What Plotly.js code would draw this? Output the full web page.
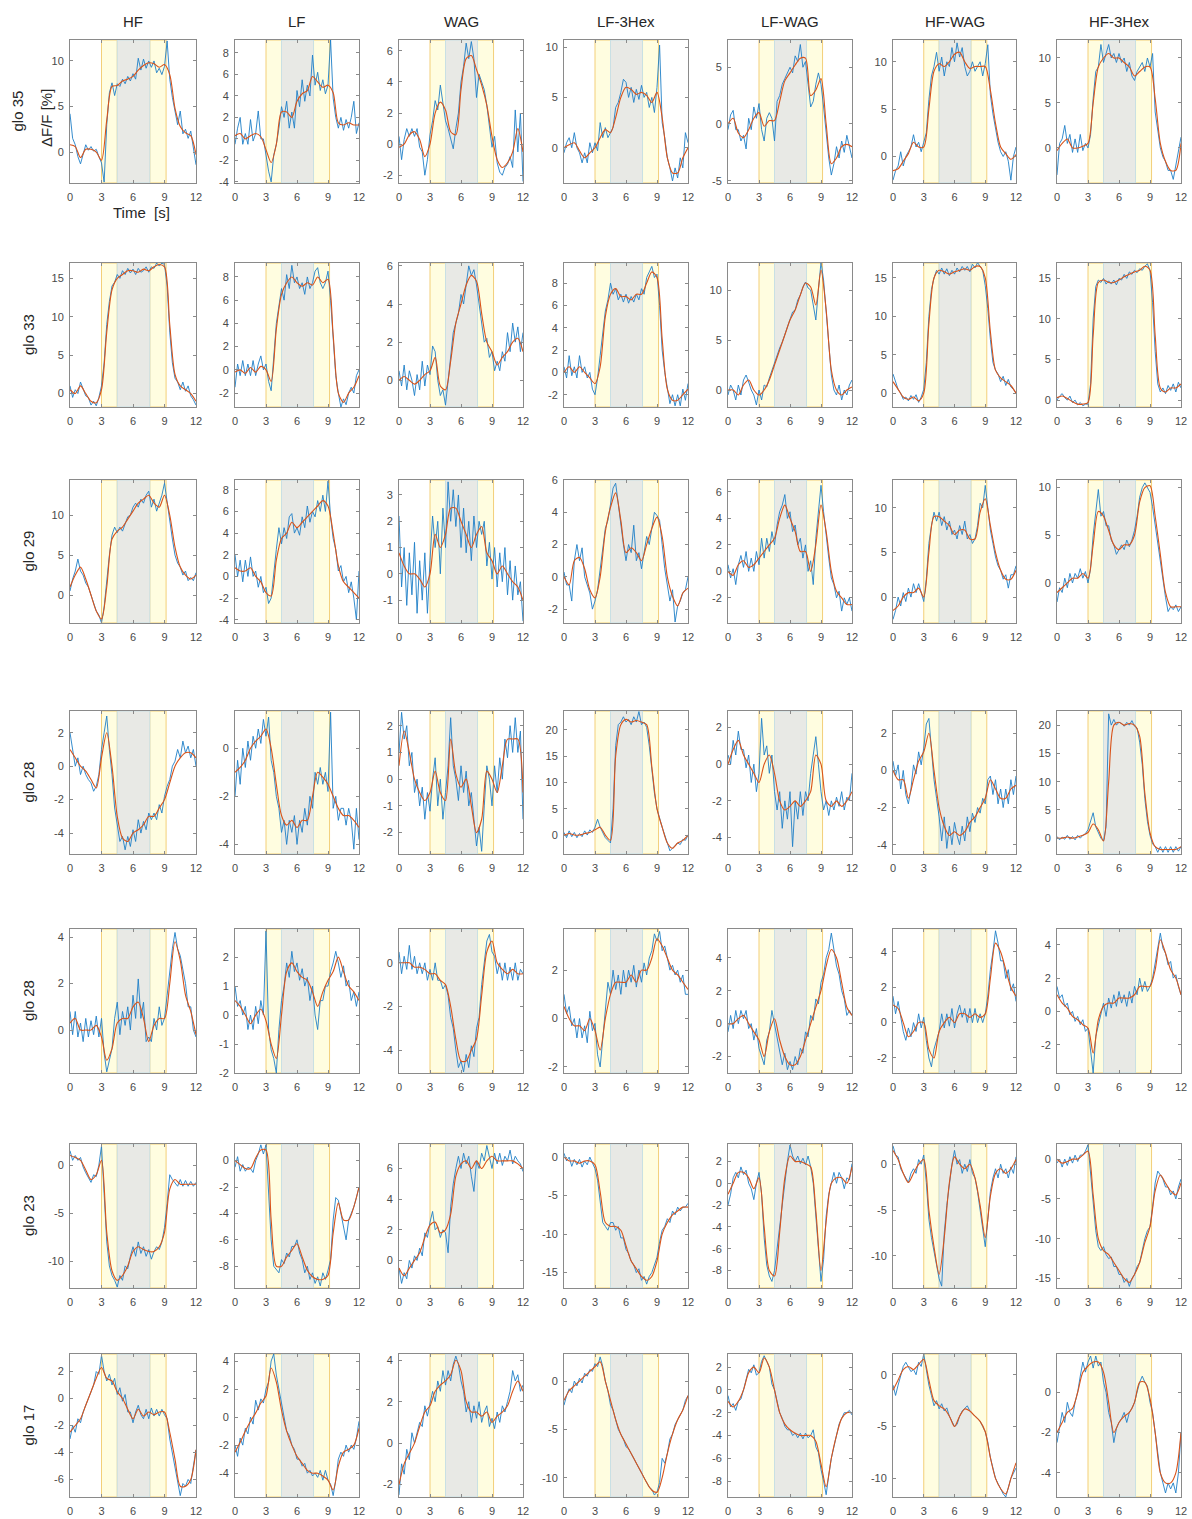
<!DOCTYPE html>
<html>
<head>
<meta charset="utf-8">
<script src="https://cdn.plot.ly/plotly-3.0.1.min.js"></script>
<style>html,body{margin:0;padding:0;background:#fff;}#chart{width:1192px;height:1519px;}</style>
</head>
<body>
<div id="chart"></div>
<script>
// ---------- time axes ----------
const tRaw = [0,0.25,0.5,0.75,1,1.25,1.5,1.75,2,2.25,2.5,2.75,3,3.25,3.5,3.75,4,4.25,4.5,4.75,5,5.25,5.5,5.75,6,6.25,6.5,6.75,7,7.25,7.5,7.75,8,8.25,8.5,8.75,9,9.25,9.5,9.75,10,10.25,10.5,10.75,11,11.25,11.5,11.75,12];
const tFit = [0,0.5,1,1.5,2,2.5,3,3.5,4,4.5,5,5.5,6,6.5,7,7.5,8,8.5,9,9.5,10,10.5,11,11.5,12];

const odorNames = ['HF','LF','WAG','LF-3Hex','LF-WAG','HF-WAG','HF-3Hex'];
const gloNames = ['glo 35','glo 33','glo 29','glo 28','glo 28','glo 23','glo 17'];
const xTickVals = [0,3,6,9,12];

// ---------- glo 35 ----------
const g35_HF_b = [4.2,1.5,0.8,-0.5, -1.3,-0.2,0.8,0.2, 0.6,0.1,0.3,-0.5, -1.2,-3.3,3.0,6.5, 7.6,6.2,7.5,7.2, 8.0,7.5,8.3,7.8, 8.6,8.0,10.3,9.0, 10.2,9.2,10.0,9.3, 10.0,8.7,9.2,8.5, 9.4,12.2,8.0,6.0, 4.5,3.0,4.5,2.0, 2.5,1.5,2.3,0.5, -1.4];
const g35_HF_o = [0.8,0.6, -0.6,0.3, 0.3,0.0, -0.9,3.5, 7.2,7.3, 7.8,8.0, 8.3,9.0, 9.5,9.8, 9.7,9.3, 9.6,8.5, 4.8,2.8, 2.1,1.8, -0.3];
const g35_LF_b = [-0.5,1.0,2.0,-0.5, 0.5,-0.5,1.8,-0.2, 0.5,2.6,0.0,0.0, -1.5,-3.0,-4.0,-1.5, -0.5,1.0,3.0,2.0, 3.5,1.0,2.5,1.0, 4.5,3.0,5.5,3.5, 5.0,4.0,7.8,5.0, 6.2,4.5,5.5,4.2, 5.0,9.2,3.8,2.0, 1.0,2.0,0.8,1.8, 1.0,2.0,3.5,0.5, 1.5];
const g35_LF_o = [0.3,0.5, 0.0,0.3, 0.5,0.2, -1.0,-2.2, -0.5,2.5, 2.5,2.0, 3.5,4.2, 4.5,5.8, 5.3,4.8, 5.0,4.3, 1.5,1.3, 1.5,1.3, 1.3];
const g35_WAG_b = [0.5,-1.0,0.3,1.0, 0.5,1.0,0.5,1.0, -0.2,-0.5,-2.0,-1.0, 0.6,1.5,2.8,2.2, 3.8,2.5,1.5,1.0, 0.3,-0.3,1.0,2.0, 4.0,5.0,6.5,5.5, 6.6,5.5,3.0,4.5, 4.0,3.5,2.5,1.0, -0.2,0.5,-1.2,-1.8, -2.0,-1.5,-1.3,-0.8, -1.5,2.2,-0.5,2.0, -2.4];
const g35_WAG_o = [-0.2,0.0, 0.6,0.8, 0.3,-0.8, 0.0,2.0, 2.7,2.2, 0.8,0.6, 3.5,5.5, 5.7,4.8, 3.8,2.5, 0.5,-1.0, -1.5,-1.2, -0.5,1.0, -0.5];
const g35_LF3Hex_b = [-0.5,0.5,1.0,0.0, 1.5,0.0,-0.5,-1.5, -0.5,-1.5,0.5,-0.5, 0.5,-0.3,2.5,1.0, 2.0,1.0,1.5,2.0, 4.0,4.5,5.5,6.8, 6.5,5.0,6.0,4.5, 5.8,4.8,6.2,5.0, 5.5,4.0,5.0,3.5, 6.0,10.2,2.5,1.0, -1.0,-2.0,-3.3,-2.0, -3.0,-1.0,-2.0,1.5, 0.5];
const g35_LF3Hex_o = [0.0,0.3, 0.5,-0.3, -1.0,-0.5, 0.0,1.0, 1.8,1.5, 3.0,5.0, 6.0,5.8, 5.3,5.5, 5.2,4.5, 5.5,3.0, -1.0,-2.5, -2.5,-1.0, 0.0];
const g35_LFWAG_b = [-0.5,0.8,1.2,-0.5, -0.5,-1.5,-1.0,-2.2, 0.5,-0.5,1.5,0.5, 1.8,-0.5,-1.5,0.5, 1.0,0.5,-1.5,2.0, 2.5,3.5,4.0,4.5, 5.0,4.5,6.0,5.5, 7.0,5.0,5.5,3.5, 1.5,2.0,3.5,4.5, 3.5,1.5,-1.0,-3.0, -4.5,-3.5,-2.0,-3.0, -1.5,-2.5,-1.0,-2.0, -3.0];
const g35_LFWAG_o = [0.0,0.5, -0.8,-1.2, -0.5,0.5, 1.0,-0.2, 0.3,0.3, 2.0,3.8, 4.5,5.2, 5.8,5.8, 2.5,3.0, 4.0,0.0, -3.5,-3.0, -2.0,-1.8, -2.0];
const g35_HFWAG_b = [-2.5,-1.5,-1.0,0.5, -1.0,0.0,0.5,1.0, 2.3,1.0,1.5,0.5, 1.5,2.5,6.0,8.5, 9.5,11.0,9.0,10.5, 8.5,10.0,9.5,11.5, 10.0,12.0,10.5,11.5, 9.5,8.5,9.0,10.0, 9.0,9.5,10.0,8.5, 9.8,11.8,6.5,4.5, 3.0,1.5,0.5,0.0, 0.5,-0.5,-2.5,0.0, 1.0];
const g35_HFWAG_o = [-1.5,-1.3, -0.5,0.3, 1.5,1.0, 1.0,5.0, 9.0,9.8, 9.5,10.0, 10.8,11.0, 10.0,9.3, 9.5,9.5, 9.5,7.0, 3.5,1.0, 0.3,-0.3, 0.2];
const g35_HF3Hex_b = [-3.0,0.5,1.0,2.5, 0.5,1.5,-0.5,1.0, -0.5,1.5,-0.3,0.5, 0.0,1.5,5.5,8.5, 9.0,11.5,9.5,10.5, 11.5,10.0,10.5,9.5, 10.5,9.5,10.0,8.5, 9.5,8.0,7.5,8.5, 9.0,9.5,8.5,10.0, 9.0,10.5,4.0,2.0, 0.0,-1.0,-1.5,-2.5, -2.5,-3.5,-2.0,-0.5, 1.2];
const g35_HF3Hex_o = [-0.3,0.5, 1.0,0.0, 0.0,0.2, 0.5,5.0, 9.0,10.0, 10.5,10.0, 10.0,9.5, 9.0,8.0, 8.5,9.0, 9.0,5.5, 0.5,-1.5, -2.5,-2.5, 0.5];

// ---------- glo 33 ----------
const g33_HF_b = [1.0,-0.5,0.5,0.0, 1.5,0.5,-0.3,-0.5, -1.5,-1.0,-1.6,-0.5, 1.0,4.0,9.0,12.0, 14.0,14.5,15.5,15.0, 16.0,15.5,16.3,15.7, 16.2,15.5,16.3,15.8, 16.0,16.5,15.8,16.5, 16.3,17.0,16.6,17.0, 16.8,14.0,8.0,4.0, 2.0,1.5,0.5,1.5, 0.3,1.0,-0.3,-0.8, -1.5];
const g33_HF_o = [0.5,0.0, 1.0,0.0, -1.0,-1.2, 0.5,8.0, 13.5,15.0, 15.5,16.0, 16.0,15.8, 16.2,16.0, 16.5,16.8, 16.5,9.0, 2.5,1.0, 0.5,0.0, -1.0];
const g33_LF_b = [-1.5,0.5,-0.5,0.8, -0.5,0.5,-0.5,0.8, -0.5,0.5,1.2,0.0, 0.5,-1.0,-1.8,1.5, 4.0,5.5,7.0,6.0, 8.2,7.0,9.0,7.5, 8.0,7.0,7.5,6.5, 8.0,7.0,7.5,8.5, 8.8,7.5,7.0,7.5, 8.5,6.0,2.5,-0.5, -2.0,-3.2,-2.5,-3.0, -2.0,-1.5,-2.0,-0.5, 0.0];
const g33_LF_o = [-0.2,0.0, -0.3,0.2, -0.2,0.3, 0.0,-1.0, 3.5,6.5, 7.5,8.0, 7.5,7.2, 7.5,7.3, 8.0,7.5, 7.8,3.0, -2.0,-2.8, -2.0,-1.5, -0.5];
const g33_WAG_b = [0.5,-0.3,0.8,-0.5, 0.5,0.0,-0.8,0.3, -0.5,1.0,-0.3,0.8, 0.3,1.8,1.5,0.0, -0.8,-0.5,-1.3,0.0, 1.5,2.5,3.0,3.5, 4.5,4.0,5.0,6.0, 5.5,5.8,5.0,4.0, 3.0,2.0,2.2,1.2, 1.5,0.5,1.0,0.5, 1.5,1.0,2.5,1.5, 3.0,2.0,2.8,1.5, 2.5];
const g33_WAG_o = [0.0,0.2, 0.0,-0.2, 0.0,0.3, 0.5,1.2, -0.3,-0.5, 1.0,3.0, 4.0,5.0, 5.5,5.2, 3.5,2.0, 1.5,0.8, 1.2,1.5, 2.0,2.2, 1.5];
const g33_LF3Hex_b = [0.5,-0.5,1.5,-0.3, 0.5,-0.5,1.5,0.0, 0.5,-0.5,0.0,-1.5, -2.0,-0.5,1.5,3.5, 5.5,6.5,8.0,7.0, 7.5,6.5,7.0,6.3, 7.0,6.2,6.8,6.3, 7.0,6.5,7.5,7.0, 8.5,9.0,9.5,8.5, 8.8,6.0,2.0,0.0, -1.5,-2.8,-2.0,-3.0, -2.0,-3.0,-1.5,-2.5, -1.0];
const g33_LF3Hex_o = [0.0,0.5, 0.0,0.5, 0.0,-0.5, -1.0,0.5, 5.0,7.0, 7.5,6.8, 6.8,6.5, 7.0,7.0, 8.0,9.0, 8.5,3.0, -1.5,-2.5, -2.5,-2.0, -1.5];
const g33_LFWAG_b = [-0.5,0.5,0.0,-1.0, 0.5,-0.5,1.0,1.5, 0.8,0.0,-0.5,-1.5, 0.0,-1.0,0.5,0.3, 1.2,2.0,2.8,3.5, 4.2,4.8,5.5,6.2, 7.0,7.8,8.0,9.0, 9.5,10.3,10.8,10.2, 10.0,8.5,7.0,10.0, 12.8,11.0,7.5,4.0, 1.5,0.0,-0.5,0.5, -1.0,0.0,-0.5,0.5, 1.0];
const g33_LFWAG_o = [0.0,0.0, -0.5,0.5, 1.0,0.0, -0.5,0.0, 1.0,2.5, 4.0,5.5, 7.0,8.0, 9.5,10.7, 10.3,8.5, 12.0,8.0, 2.0,0.0, -0.5,0.0, 0.3];
const g33_HFWAG_b = [2.5,1.5,0.5,0.0, -0.8,-0.5,-1.0,-0.3, -0.8,-0.2,-1.2,-0.5, 0.5,4.0,10.0,13.5, 15.0,16.0,15.5,16.3, 15.5,16.2,15.3,16.0, 15.5,16.3,15.8,16.5, 16.0,16.5,15.8,16.8, 16.3,17.0,16.5,16.0, 14.0,11.0,7.0,4.0, 3.0,2.5,1.5,2.2, 1.0,1.8,0.8,0.5, 0.0];
const g33_HFWAG_o = [1.5,0.5, -0.5,-0.8, -0.5,-1.0, 0.0,9.0, 15.0,16.0, 15.8,15.5, 15.8,16.0, 16.2,16.0, 16.5,16.5, 15.0,8.0, 3.0,2.0, 1.5,1.0, 0.0];
const g33_HF3Hex_b = [0.0,0.5,0.8,0.3, 0.0,0.5,-0.3,0.0, -0.6,-0.3,-0.7,-0.5, -0.5,2.0,10.0,14.0, 14.8,14.5,15.0,14.3, 14.7,14.3,14.8,14.2, 15.0,14.8,15.5,15.0, 15.8,15.5,16.0,15.7, 16.2,16.0,16.5,16.8, 16.0,12.0,6.0,2.0, 1.0,1.5,0.8,1.8, 1.2,2.0,1.0,2.2, 1.5];
const g33_HF3Hex_o = [0.3,0.5, 0.2,-0.2, -0.5,-0.5, -0.3,8.0, 14.5,14.8, 14.5,14.5, 14.8,15.2, 15.5,15.8, 16.0,16.5, 16.0,8.0, 1.5,1.0, 1.5,1.5, 2.0];

// ---------- glo 29 ----------
const g29_HF_b = [0.5,2.0,3.0,4.5, 3.0,2.5,1.5,1.0, 0.0,-1.0,-2.0,-2.5, -3.5,-1.5,2.0,5.0, 7.5,8.5,7.8,8.5, 8.0,9.0,9.8,10.0, 11.0,11.5,11.0,12.0, 11.5,12.5,13.0,11.0, 12.0,10.5,11.5,12.5, 14.0,11.5,9.0,7.0, 5.0,4.0,3.5,2.5, 3.0,1.8,2.2,1.8, 2.8];
const g29_HF_o = [1.0,2.5, 3.5,2.0, 0.0,-2.0, -3.0,1.0, 7.0,8.0, 8.5,9.5, 10.5,11.5, 12.0,12.5, 11.5,11.0, 12.5,10.0, 6.0,3.5, 2.5,2.0, 2.5];
const g29_LF_b = [2.0,0.0,1.5,-0.5, 1.5,0.0,1.8,0.0, 0.5,-1.0,0.0,-1.5, -1.0,-2.5,-2.0,0.5, 2.5,4.5,3.0,4.5, 3.5,5.5,5.8,4.0, 4.5,3.8,5.5,4.5, 6.5,5.0,6.0,5.5, 7.0,6.0,7.5,6.0, 8.8,5.5,3.5,2.5, 0.5,1.0,-0.5,0.0, -1.5,-0.5,-2.0,-4.0, 0.5];
const g29_LF_o = [0.8,0.5, 0.5,0.8, 0.0,-0.5, -1.5,-1.8, 1.5,3.5, 4.0,5.0, 4.5,5.0, 5.5,6.0, 6.5,7.0, 6.5,4.0, 1.0,-0.5, -1.0,-1.5, -2.0];
const g29_WAG_b = [2.2,-0.5,1.0,-1.2, 0.8,-0.8,1.2,-1.5, 0.5,-1.0,0.8,-1.5, 0.5,2.2,1.0,2.0, 0.0,2.5,1.0,3.5, 2.0,3.2,1.8,3.0, 1.0,2.5,0.8,2.0, 0.5,2.2,1.0,2.0, 1.5,2.0,0.3,1.2, -0.2,1.0,-0.5,0.8, -0.3,1.0,-0.8,0.5, -1.0,0.3,-0.8,-0.3, -1.8];
const g29_WAG_o = [0.8,0.3, 0.0,0.0, -0.2,-0.5, 0.0,1.5, 1.0,1.5, 2.5,2.5, 2.0,1.5, 1.0,1.5, 1.8,0.8, 0.5,0.0, 0.3,0.0, -0.3,-0.5, -1.0];
const g29_LF3Hex_b = [0.3,-0.5,-0.5,-1.5, 1.0,2.0,1.0,1.8, 0.0,-0.5,-1.0,-2.0, -1.5,-0.8,0.5,1.5, 3.0,3.5,4.5,5.5, 5.8,4.5,3.0,2.0, 1.0,2.0,1.5,3.2, 1.0,1.5,0.5,1.5, 2.5,2.0,3.0,4.0, 3.8,3.5,2.0,0.5, -0.5,-1.5,-0.8,-2.8, -1.8,-1.5,-1.0,-0.8, 0.0];
const g29_LF3Hex_o = [0.0,-0.5, 1.0,1.2, 0.5,-0.8, -1.3,0.0, 2.8,4.3, 5.2,3.5, 1.5,1.8, 1.5,1.0, 2.0,3.0, 3.7,2.5, 0.0,-1.2, -1.8,-1.0, -0.7];
const g29_LFWAG_b = [0.5,-0.5,0.2,-1.0, 0.5,1.2,0.3,1.5, 0.0,1.0,0.0,1.5, 0.5,2.5,1.0,2.5, 1.5,3.0,2.0,3.5, 4.5,5.0,5.8,4.0, 4.5,3.0,3.5,2.0, 2.5,1.0,2.0,0.0, 0.8,-1.0,2.5,4.5, 6.5,4.5,2.5,1.0, -0.5,-1.0,-2.0,-1.5, -3.0,-2.0,-2.5,-2.0, -3.0];
const g29_LFWAG_o = [0.0,-0.3, 0.5,0.8, 0.3,0.5, 1.0,1.5, 2.0,2.5, 4.0,5.0, 4.0,3.0, 1.5,1.5, 0.0,2.0, 5.0,3.0, 0.0,-1.5, -2.0,-2.5, -2.5];
const g29_HFWAG_b = [-2.5,-1.5,0.0,-1.0, 0.5,-0.5,1.0,0.0, 1.5,0.5,1.5,0.5, -0.5,2.0,6.0,8.0, 9.5,8.5,9.5,8.0, 9.0,7.5,8.5,7.0, 7.5,6.5,8.0,7.0, 8.5,6.5,7.0,6.0, 6.5,8.0,10.5,10.0, 12.5,10.0,7.5,6.0, 4.5,3.5,3.0,2.0, 2.5,1.0,2.5,2.5, 3.5];
const g29_HFWAG_o = [-1.5,-1.0, 0.0,0.5, 0.5,1.0, 0.0,5.0, 9.0,9.0, 8.5,8.0, 7.0,7.5, 7.5,6.5, 6.5,9.5, 11.0,8.0, 5.0,3.0, 2.0,2.0, 3.0];
const g29_HF3Hex_b = [-2.0,-0.5,-1.0,0.5, -0.5,1.0,0.0,1.0, 0.5,1.5,0.5,1.2, 0.0,1.5,5.0,7.5, 9.8,7.0,7.5,6.0, 6.0,4.5,4.0,3.0, 3.5,4.0,3.5,4.5, 3.8,4.5,5.5,7.0, 9.0,10.0,10.5,10.0, 9.5,8.0,6.0,4.0, 2.5,0.0,-1.5,-3.0, -2.5,-2.8,-2.3,-3.0, -2.5];
const g29_HF3Hex_o = [-1.0,-0.5, 0.0,0.5, 0.5,1.0, 0.5,4.0, 7.5,7.0, 5.5,4.0, 3.5,4.0, 4.0,5.0, 8.5,10.0, 10.2,7.0, 3.0,-1.0, -2.5,-2.5, -2.5];

// ---------- glo 28 (first) ----------
const g28a_HF_b = [2.0,1.0,0.0,0.5, -0.5,0.0,-0.5,-0.8, -1.0,-1.5,-1.2,-0.5, 1.0,2.0,3.0,1.0, -0.5,-2.5,-3.5,-4.5, -4.2,-5.0,-4.2,-4.8, -3.8,-4.5,-3.2,-4.0, -3.3,-3.8,-2.8,-3.2, -2.8,-3.2,-2.3,-2.8, -1.8,-1.2,-0.8,0.0, 0.3,1.0,0.5,1.5, 0.8,1.2,0.5,1.0, 0.0];
const g28a_HF_o = [1.0,0.5, 0.0,-0.3, -0.8,-1.3, 0.5,2.0, 0.0,-3.0, -4.3,-4.5, -4.0,-3.8, -3.5,-3.0, -3.0,-2.5, -2.0,-1.0, 0.0,0.5, 0.8,0.8, 0.5];
const g28a_LF_b = [-2.0,-0.5,-1.5,0.0, -0.8,0.3,-0.5,0.5, 0.0,0.8,0.2,1.2, 0.5,1.3,-0.5,-1.0, -2.0,-2.5,-3.5,-3.0, -4.0,-3.0,-3.5,-2.8, -4.0,-3.0,-3.5,-2.5, -3.2,-2.0,-2.5,-1.0, -1.5,-0.8,-1.5,-1.0, -1.8,1.5,-2.5,-2.0, -3.0,-2.5,-2.5,-3.2, -2.5,-3.0,-4.2,-2.5, -3.8];
const g28a_LF_o = [-1.0,-0.8, -0.5,0.0, 0.3,0.5, 0.8,0.0, -1.5,-2.8, -3.2,-3.0, -3.3,-3.0, -3.0,-2.0, -1.0,-1.2, -1.5,-2.0, -2.5,-2.8, -2.8,-3.0, -3.3];
const g28a_WAG_b = [1.0,2.5,1.5,2.0, 0.5,1.0,-0.5,0.0, -1.0,-0.3,-1.5,-0.5, -1.2,0.0,0.8,-1.0, 0.0,-1.5,-0.5,0.5, 2.3,0.5,0.0,-0.8, 0.5,-0.5,0.3,-1.0, -0.5,-1.5,-2.5,-1.8, -2.7,-1.0,0.5,0.0, -1.0,0.5,-0.5,0.8, 0.0,1.5,0.8,2.0, 1.0,2.3,1.0,1.8, -1.5];
const g28a_WAG_o = [0.5,1.8, 1.0,0.0, -0.5,-0.8, -0.5,0.3, -0.5,-0.8, 1.5,0.2, -0.3,0.0, -1.0,-2.0, -1.5,0.3, 0.0,-0.5, 0.5,1.5, 1.5,1.5, -0.5];
const g28a_LF3Hex_b = [0.5,-0.5,0.8,-0.3, 0.5,-0.5,0.3,-0.3, 0.8,0.0,1.0,0.5, 1.5,3.0,1.5,0.5, -0.5,-1.0,-1.5,5.0, 17.0,21.0,21.5,22.5, 21.5,22.0,21.0,22.5, 21.5,23.5,21.0,21.5, 20.5,17.0,12.0,8.0, 5.0,3.0,1.5,0.0, -1.5,-3.0,-2.5,-2.0, -1.5,-1.8,-0.8,-1.0, 0.0];
const g28a_LF3Hex_o = [0.0,0.3, 0.0,0.0, 0.3,0.5, 1.0,1.5, 0.0,-1.0, 15.0,21.0, 22.0,21.5, 21.8,21.5, 21.0,13.0, 5.0,1.5, -1.5,-2.5, -1.5,-1.0, 0.0];
const g28a_LFWAG_b = [0.5,0.0,1.3,0.5, 1.8,0.8,0.8,-0.2, 0.5,-1.0,0.0,-1.5, -0.5,2.5,0.5,1.0, -0.5,0.5,-1.5,-2.5, -1.5,-3.5,-2.0,-3.0, -1.5,-4.5,-2.0,-3.0, -1.5,-2.8,-1.5,-2.0, -0.5,0.5,1.5,0.0, -1.5,-2.5,-2.0,-2.8, -2.0,-2.5,-1.8,-2.3, -1.5,-2.5,-1.8,-2.0, -0.5];
const g28a_LFWAG_o = [0.0,0.8, 1.3,0.5, 0.0,-0.5, -1.0,0.0, 0.5,-0.5, -2.0,-2.5, -2.3,-2.0, -2.3,-2.0, -1.5,0.5, 0.0,-2.0, -2.3,-2.0, -2.3,-2.0, -1.5];
const g28a_HFWAG_b = [0.5,-0.3,0.3,-1.0, 0.0,-1.3,-1.8,-1.0, 0.3,-0.2,1.0,0.3, 1.2,2.5,2.8,1.0, -0.5,-1.5,-2.5,-3.8, -2.5,-4.2,-3.0,-4.0, -2.8,-3.5,-4.0,-3.0, -3.8,-2.5,-3.3,-2.3, -2.8,-2.0,-2.3,-1.5, -1.8,-0.5,-0.3,-1.3, -0.5,-1.8,-1.0,-2.0, -1.0,-1.8,-0.5,-1.3, -0.3];
const g28a_HFWAG_o = [0.0,-0.5, -0.5,-1.5, -0.5,0.5, 1.0,2.0, 0.0,-2.0, -3.0,-3.5, -3.3,-3.5, -3.3,-2.8, -2.5,-2.0, -1.5,-0.5, -1.0,-1.5, -1.5,-1.0, -0.8];
const g28a_HF3Hex_b = [0.3,-0.3,0.2,-0.2, 0.5,-0.2,0.3,-0.3, 0.5,0.0,0.5,0.8, 1.5,3.0,4.5,2.0, 1.0,0.0,-0.5,2.0, 22.0,20.0,21.0,20.0, 20.5,20.3,19.8,20.5, 20.0,20.8,19.8,19.5, 17.0,13.0,7.0,3.0, 0.5,-1.0,-1.5,-2.5, -1.5,-2.5,-1.5,-2.5, -1.5,-2.5,-1.5,-2.3, -1.5];
const g28a_HF3Hex_o = [0.0,0.0, 0.2,0.0, 0.2,0.5, 1.0,2.5, 1.5,-0.5, 10.0,20.0, 20.5,20.0, 20.3,20.0, 18.0,8.0, 1.0,-1.5, -2.0,-2.0, -2.0,-2.0, -1.5];

// ---------- glo 28 (second) ----------
const g28b_HF_b = [0.8,-0.2,0.8,-0.3, 0.3,-0.5,0.5,-0.3, 0.4,-0.2,0.6,-0.3, 0.5,-1.0,-1.8,-1.3, -0.8,0.5,1.2,-0.2, 0.8,0.2,1.0,0.0, 1.5,0.5,2.2,0.5, 1.2,-0.5,-0.3,-0.5, 0.5,0.0,1.0,0.2, 0.5,1.5,2.5,3.5, 4.2,3.5,3.2,2.5, 2.0,1.0,1.0,0.0, -0.3];
const g28b_HF_o = [0.3,0.5, 0.0,0.0, 0.0,0.2, -0.3,-1.3, -0.8,0.3, 0.5,0.5, 1.0,1.2, 0.5,-0.5, 0.2,0.5, 0.5,2.0, 3.8,3.0, 1.5,0.8, -0.2];
const g28b_LF_b = [1.0,0.3,0.5,0.0, 0.3,-0.5,0.0,-0.5, 0.3,-0.3,0.5,0.0, 2.9,-0.5,-1.2,-1.5, -2.0,-0.5,0.5,1.0, 1.8,1.3,2.2,1.5, 1.8,1.2,1.6,1.0, 1.3,0.5,1.0,0.0, -0.5,0.5,0.5,1.0, 1.0,1.5,1.8,2.2, 1.8,1.3,1.7,1.0, 1.2,0.5,0.8,0.3, 0.8];
const g28b_LF_o = [0.5,0.3, 0.0,-0.3, 0.0,0.2, -0.2,-1.0, -1.5,0.0, 1.5,1.8, 1.5,1.3, 1.2,0.8, 0.3,0.8, 1.2,1.5, 2.0,1.5, 1.0,0.8, 0.5];
const g28b_WAG_b = [0.5,-0.5,0.3,-0.3, 0.8,-0.3,0.3,-0.5, 0.0,-0.5,0.0,-0.8, -0.3,-0.8,0.0,-0.8, -0.8,-1.2,-1.0,-1.5, -2.5,-3.0,-4.0,-4.8, -4.5,-5.0,-4.2,-4.8, -3.8,-4.3,-3.0,-2.5, -1.0,0.0,1.0,1.3, 0.5,0.3,-0.5,0.0, -0.8,0.0,-0.8,-0.2, -0.8,0.0,-0.8,-0.3, -0.5];
const g28b_WAG_o = [0.0,0.0, 0.0,-0.2, -0.2,-0.3, -0.5,-0.5, -0.8,-1.0, -2.0,-3.5, -4.5,-4.5, -4.0,-3.5, -1.5,0.5, 1.0,0.0, -0.3,-0.5, -0.3,-0.5, -0.5];
const g28b_LF3Hex_b = [1.0,0.2,0.5,-0.3, 0.0,-0.8,0.0,-0.8, -0.3,-1.0,0.3,-0.5, -0.2,-1.5,-2.0,-0.8, 0.5,1.5,1.0,2.0, 1.2,1.8,1.0,2.0, 1.3,2.0,1.5,2.2, 1.3,2.0,1.5,2.3, 1.8,2.5,2.8,3.5, 3.2,3.6,2.8,3.0, 2.5,2.0,2.2,1.8, 2.0,1.5,1.8,1.0, 1.0];
const g28b_LF3Hex_o = [0.5,0.0, -0.3,-0.3, -0.5,0.0, -0.5,-1.3, 0.0,1.0, 1.5,1.5, 1.5,1.8, 1.5,2.0, 2.0,2.5, 3.3,3.0, 2.5,2.0, 1.8,1.5, 1.2];
const g28b_LFWAG_b = [-0.5,0.5,-0.3,0.8, 0.0,0.8,0.3,0.8, -0.3,0.0,-1.0,-0.3, -1.5,-2.0,-2.5,-1.0, -0.5,0.8,0.0,-0.8, -1.5,-2.5,-1.8,-2.8, -2.3,-2.8,-2.0,-2.5, -1.5,-1.8,-0.5,-0.8, 0.5,0.2,1.5,1.2, 2.5,3.0,4.0,4.5, 5.5,4.5,3.5,3.0, 2.0,1.5,0.5,0.8, 0.5];
const g28b_LFWAG_o = [0.0,0.0, 0.3,0.5, 0.0,-0.5, -1.0,-2.0, -0.5,0.3, -1.0,-2.0, -2.5,-2.5, -2.0,-1.0, 0.0,1.0, 2.0,3.5, 4.5,4.0, 2.5,1.0, 0.5];
const g28b_HFWAG_b = [1.5,0.5,1.2,0.3, -0.5,-1.0,-0.3,-0.8, 0.0,-0.5,0.5,-0.3, 0.3,-1.0,-2.0,-2.5, -1.5,-1.0,-0.5,0.5, -0.3,0.5,-0.2,0.8, -0.3,0.5,1.0,0.3, 0.8,0.0,0.8,0.0, 0.8,0.0,0.5,0.0, 0.5,1.5,3.0,4.0, 5.2,4.5,3.5,3.5, 2.5,3.0,1.8,2.2, 1.2];
const g28b_HFWAG_o = [1.0,0.8, 0.0,-0.8, -0.5,0.0, 0.0,-1.5, -2.0,-0.5, 0.0,0.3, 0.0,0.5, 0.5,0.3, 0.5,0.3, 0.5,2.5, 4.5,4.0, 3.0,2.0, 1.5];
const g28b_HF3Hex_b = [1.5,0.8,1.0,0.3, 0.5,-0.2,0.0,-0.6, -0.3,-0.8,-0.5,-1.2, -1.0,-2.5,-3.7,-1.5, -0.8,0.0,0.5,-0.3, 0.8,0.2,1.0,0.3, 1.2,0.5,1.0,0.3, 1.2,0.5,1.5,1.0, 2.0,1.2,1.8,1.2, 1.5,2.0,3.0,3.8, 4.7,3.8,3.5,2.8, 3.0,2.0,2.2,1.5, 1.0];
const g28b_HF3Hex_o = [1.0,0.5, 0.2,-0.3, -0.5,-0.8, -1.0,-2.5, -0.5,0.3, 0.5,0.5, 0.8,0.8, 0.8,1.0, 1.5,1.5, 1.5,2.5, 4.3,3.5, 2.5,2.0, 1.0];

// ---------- glo 23 ----------
const g23_HF_b = [1.5,0.5,1.0,0.5, 0.8,-0.2,-0.8,-1.3, -1.8,-1.0,-1.2,0.0, 2.0,-3.0,-8.0,-10.5, -11.5,-12.0,-12.7,-11.5, -12.0,-10.5,-10.8,-9.5, -8.5,-9.5,-8.0,-9.2, -8.5,-9.5,-8.8,-9.8, -9.0,-8.5,-8.8,-8.0, -6.5,-4.0,-1.0,-1.5, -1.8,-2.2,-1.5,-2.2, -1.6,-2.2,-1.7,-2.2, -1.8];
const g23_HF_o = [1.0,0.8, 0.5,-0.5, -1.5,-1.0, 0.5,-7.0, -11.0,-12.0, -11.5,-10.5, -9.0,-8.5, -8.8,-9.0, -9.0,-8.5, -7.0,-2.5, -1.5,-2.0, -2.0,-2.0, -2.0];
const g23_LF_b = [-0.5,0.3,-0.8,-0.3, -0.8,-0.5,-0.6,-0.9, 0.0,0.5,1.2,0.5, 1.2,-2.0,-6.0,-8.0, -8.3,-8.5,-7.5,-7.8, -7.0,-7.3,-6.5,-6.5, -6.0,-7.0,-7.5,-8.5, -8.0,-9.0,-8.5,-9.3, -8.8,-9.5,-8.5,-9.0, -8.3,-7.5,-4.5,-2.8, -3.0,-4.0,-5.0,-6.0, -4.5,-4.0,-3.5,-2.8, -2.0];
const g23_LF_o = [0.0,-0.3, -0.6,-0.6, 0.2,0.8, 0.8,-4.5, -8.0,-8.0, -7.3,-6.8, -6.3,-7.3, -8.3,-8.8, -9.0,-9.0, -8.7,-5.5, -3.2,-4.5, -4.5,-3.5, -2.0];
const g23_WAG_b = [-0.5,-1.5,-0.8,-1.2, 0.0,-0.5,0.3,0.0, 0.8,0.3,1.8,1.5, 2.5,3.2,2.0,2.2, 1.5,2.0,1.8,0.5, 3.5,5.0,6.0,6.8, 6.0,7.0,6.3,6.8, 5.5,4.5,6.5,6.0, 7.0,6.5,7.5,6.8, 6.0,7.0,6.3,7.0, 6.2,6.8,6.5,7.2, 6.3,6.8,6.5,6.3, 5.8];
const g23_WAG_o = [-0.5,-1.0, -0.5,0.0, 0.5,1.5, 2.3,2.5, 1.8,2.0, 3.0,5.5, 6.3,6.5, 6.0,6.5, 6.0,6.5, 6.8,6.5, 6.5,6.5, 6.5,6.3, 6.0];
const g23_LF3Hex_b = [0.5,-0.5,0.0,-1.2, -0.3,-1.0,-0.3,-1.3, -0.5,-1.0,0.0,-0.8, -1.5,-3.0,-6.0,-8.5, -9.0,-9.5,-8.5,-8.5, -9.5,-9.0,-10.5,-10.5, -12.0,-12.5,-13.5,-14.0, -15.0,-14.5,-16.0,-15.5, -16.5,-15.5,-15.0,-14.0, -13.0,-11.0,-9.5,-9.0, -8.0,-8.5,-7.0,-7.5, -6.5,-7.0,-6.5,-6.5, -6.0];
const g23_LF3Hex_o = [0.0,-0.5, -0.5,-0.8, -0.5,-0.5, -1.0,-4.5, -8.5,-9.0, -9.0,-9.5, -11.5,-13.5, -14.5,-15.5, -16.0,-15.5, -13.5,-10.0, -8.5,-7.5, -7.0,-6.5, -6.5];
const g23_LFWAG_b = [-2.0,-1.0,0.5,1.0, 0.5,1.5,0.8,1.2, 0.0,-0.5,-1.5,0.0, 1.0,-1.0,-5.0,-7.5, -8.5,-9.0,-8.0,-6.0, -4.0,-1.5,0.5,2.0, 3.5,2.5,2.0,2.5, 1.8,2.3,1.7,2.5, 1.5,0.0,-3.0,-6.0, -9.0,-7.0,-3.0,-1.0, 0.0,1.0,0.0,1.0, 0.5,-0.5,0.5,0.3, 1.8];
const g23_LFWAG_o = [-1.0,0.0, 1.0,1.0, 0.5,-0.5, 0.5,-4.0, -8.0,-8.5, -4.5,0.5, 2.5,2.0, 2.0,1.8, 1.5,-2.5, -8.0,-3.5, 0.0,0.5, 0.5,0.0, 1.5];
const g23_HFWAG_b = [2.0,1.0,0.8,-0.5, -1.0,-1.5,-2.0,-1.0, -0.5,-1.0,0.5,0.0, 1.0,-2.0,-6.0,-8.0, -9.5,-11.0,-12.5,-13.3, -7.5,-4.5,-2.0,0.0, 1.5,0.0,0.5,-1.0, 0.0,-0.8,0.5,-1.0, -1.5,-3.0,-5.0,-7.0, -9.0,-6.0,-3.0,-1.5, -0.5,-1.5,0.0,-1.0, -0.5,-1.5,-0.3,-1.0, 0.8];
const g23_HFWAG_o = [1.5,0.5, -1.0,-2.0, -1.0,0.0, 0.5,-5.0, -9.0,-12.0, -8.0,-2.0, 0.8,0.0, -0.5,0.0, -1.5,-4.5, -8.0,-3.5, -1.0,-0.5, -1.0,-0.5, 0.5];
const g23_HF3Hex_b = [-0.5,0.0,-1.0,0.0, -0.8,0.3,-0.5,0.5, -0.3,0.5,0.5,1.0, 1.8,-2.0,-6.0,-9.0, -11.0,-11.5,-11.0,-12.0, -12.5,-12.3,-13.5,-13.5, -14.5,-14.5,-15.5,-15.0, -16.0,-15.0,-14.5,-13.5, -13.0,-11.5,-10.0,-9.0, -8.5,-6.0,-3.0,-1.5, -2.0,-2.5,-3.5,-3.5, -4.5,-4.0,-5.0,-3.5, -2.5];
const g23_HF3Hex_o = [0.0,-0.5, -0.3,0.0, 0.0,0.5, 1.0,-4.5, -10.0,-11.5, -12.0,-13.0, -14.0,-15.0, -15.5,-14.5, -13.0,-10.5, -8.5,-4.0, -2.0,-3.0, -4.0,-4.5, -3.0];

// ---------- glo 17 ----------
const g17_HF_b = [-3.0,-2.0,-2.5,-1.5, -1.8,-1.0,-0.5,0.0, 0.5,1.0,2.0,1.8, 3.2,2.0,1.3,1.8, 1.0,1.5,0.3,0.8, -0.2,0.3,-1.0,-1.0, -1.8,-1.0,-0.5,-1.2, -1.5,-0.8,-1.5,-0.7, -1.3,-0.8,-1.3,-0.8, -1.2,-1.5,-3.0,-4.0, -5.0,-6.0,-7.2,-6.3, -6.5,-6.0,-6.3,-5.0, -3.8];
const g17_HF_o = [-2.5,-2.0, -1.5,-0.5, 0.5,1.5, 2.3,1.5, 1.3,0.5, 0.0,-0.8, -1.5,-0.8, -1.3,-1.0, -1.2,-1.0, -1.0,-2.5, -4.5,-6.5, -6.5,-6.0, -3.8];
const g17_LF_b = [-2.0,-2.8,-1.5,-2.0, -0.8,-1.2,0.0,-0.5, 1.2,0.5,1.3,1.0, 2.0,2.5,4.0,4.5, 3.0,2.0,0.8,0.0, -1.0,-1.3,-2.0,-2.3, -3.0,-3.0,-3.5,-3.3, -4.0,-3.8,-4.2,-4.0, -4.3,-3.8,-4.5,-3.8, -4.5,-4.8,-5.6,-4.5, -3.0,-2.5,-2.8,-2.0, -2.5,-2.0,-2.3,-1.5, -0.3];
const g17_LF_o = [-2.5,-1.8, -1.0,-0.3, 0.3,1.0, 1.5,3.5, 2.5,0.5, -1.0,-2.0, -2.8,-3.3, -3.8,-4.0, -4.0,-4.2, -4.5,-5.2, -3.5,-2.5, -2.3,-2.0, -0.8];
const g17_WAG_b = [-2.5,-1.0,-1.5,-0.3, -0.8,0.5,0.0,0.5, 1.0,0.8,1.8,1.3, 2.0,2.5,2.0,3.0, 2.5,3.5,2.8,3.5, 3.0,3.8,4.2,3.8, 3.0,2.5,1.5,2.0, 1.0,1.8,1.2,2.0, 1.0,1.5,1.8,0.8, 1.2,0.7,1.5,1.0, 1.8,1.5,2.0,2.5, 3.5,3.0,3.3,2.5, 2.8];
const g17_WAG_o = [-2.0,-1.0, -0.5,0.0, 0.8,1.5, 1.8,2.5, 2.8,3.0, 3.3,4.0, 3.5,2.0, 1.5,1.5, 1.3,1.5, 1.0,1.3, 1.5,1.8, 2.5,3.0, 2.5];
const g17_LF3Hex_b = [-2.5,-1.5,-0.8,-1.2, 0.0,-0.5,0.3,-0.2, 0.8,0.5,1.2,1.0, 1.8,1.5,2.5,1.5, 0.0,-1.0,-2.5,-3.0, -4.0,-5.0,-5.5,-6.0, -6.8,-7.0,-7.5,-8.0, -8.5,-9.0,-9.5,-10.0, -10.5,-11.0,-11.2,-11.8, -11.5,-10.5,-8.0,-8.5, -7.5,-6.0,-5.5,-4.5, -4.0,-3.5,-3.0,-2.0, -1.5];
const g17_LF3Hex_o = [-2.0,-1.0, -0.5,0.0, 0.5,1.0, 1.5,2.0, 0.0,-2.0, -4.0,-5.5, -6.5,-7.5, -8.5,-9.5, -10.5,-11.3, -11.5,-10.0, -7.5,-5.5, -4.0,-3.0, -1.5];
const g17_LFWAG_b = [-0.5,-1.5,-1.2,-1.8, -1.0,-0.8,0.0,1.0, 1.8,1.5,2.2,1.3, 1.5,2.5,3.0,2.5, 2.0,0.5,0.0,-1.0, -2.0,-2.5,-3.2,-3.5, -3.5,-4.0,-3.8,-4.2, -3.8,-4.3,-3.8,-4.2, -4.0,-3.5,-5.0,-5.5, -7.0,-8.0,-9.2,-7.5, -6.0,-5.0,-4.0,-3.0, -2.5,-2.0,-2.0,-1.8, -2.2];
const g17_LFWAG_o = [-1.0,-1.5, -1.0,0.0, 1.5,2.0, 1.5,2.8, 2.0,0.0, -2.0,-3.0, -3.5,-3.8, -4.0,-4.0, -4.0,-4.5, -6.5,-8.5, -6.0,-4.0, -2.5,-2.0, -2.0];
const g17_HFWAG_b = [-1.0,-2.0,-1.0,0.0, 0.8,1.2,0.8,0.3, 0.5,0.0,1.2,0.8, 2.0,0.5,-1.0,-2.0, -3.0,-2.5,-3.3,-2.8, -3.5,-3.2,-4.0,-4.5, -5.0,-4.8,-4.0,-3.5, -3.2,-3.0,-3.5,-3.8, -4.0,-4.2,-4.5,-5.0, -5.5,-6.5,-8.0,-9.0, -10.0,-10.5,-11.0,-11.5, -11.8,-11.0,-10.0,-9.5, -9.0];
const g17_HFWAG_o = [-1.5,-0.5, 0.5,0.8, 0.5,1.0, 1.5,-0.5, -2.5,-3.0, -3.3,-4.0, -5.0,-4.0, -3.3,-3.5, -4.0,-4.5, -5.5,-8.0, -10.0,-11.0, -11.5,-10.0, -8.5];
const g17_HF3Hex_b = [-2.5,-1.8,-1.0,-1.5, -0.5,-1.0,-1.2,-0.5, 0.0,0.8,1.5,1.0, 1.5,1.8,1.2,1.8, 1.3,1.5,0.5,0.0, -1.0,-1.5,-2.5,-1.8, -1.5,-1.3,-1.0,-1.5, -1.0,-0.8,-0.5,0.0, 0.5,0.8,0.5,0.3, -0.5,-1.0,-2.0,-3.0, -4.0,-4.5,-5.0,-4.5, -4.8,-4.5,-5.0,-4.0, -2.0];
const g17_HF3Hex_o = [-2.0,-1.5, -1.0,-0.8, 0.0,1.0, 1.3,1.5, 1.5,1.0, -0.5,-2.0, -1.5,-1.2, -1.0,-0.5, 0.5,0.5, -0.3,-2.0, -4.0,-4.5, -4.5,-4.0, -2.0];

// ---------- per-panel axis ranges and tick steps ----------
const yRanges = [
  [[-3.4,12.3],[-4.1,9.2],[-2.5,6.7],[-3.5,10.7],[-5.2,7.4],[-2.8,12.3],[-3.9,12]],
  [[-1.75,17],[-3.2,9.2],[-1.4,6.15],[-3.1,9.8],[-1.7,12.7],[-1.8,16.95],[-0.85,16.9]],
  [[-3.5,14.4],[-4.3,8.9],[-1.87,3.57],[-2.86,6.0],[-3.9,6.9],[-2.9,13.1],[-4.2,10.8]],
  [[-5.25,3.3],[-4.4,1.55],[-2.8,2.55],[-3.6,23.6],[-4.9,2.9],[-4.5,3.2],[-2.8,22.5]],
  [[-1.85,4.35],[-2,2.97],[-5.05,1.55],[-2.25,3.7],[-3,5.75],[-2.85,5.3],[-3.7,4.95]],
  [[-12.8,2.2],[-9.65,1.26],[-1.8,7.6],[-17,1.7],[-9.6,3.6],[-13.5,2.2],[-16.2,1.9]],
  [[-7.3,3.3],[-5.7,4.5],[-2.6,4.3],[-12,2.8],[-9.4,3.15],[-11.8,2.0],[-5.2,1.9]]
];
const yDticks = [
  [5,2,2,5,5,5,5],
  [5,2,2,2,5,5,5],
  [5,2,1,2,2,5,5],
  [2,2,1,5,2,2,5],
  [2,1,2,2,2,2,2],
  [5,2,2,5,2,5,5],
  [2,2,2,5,2,5,2]
];

const panels = [
  [[g35_HF_b,g35_HF_o],[g35_LF_b,g35_LF_o],[g35_WAG_b,g35_WAG_o],[g35_LF3Hex_b,g35_LF3Hex_o],[g35_LFWAG_b,g35_LFWAG_o],[g35_HFWAG_b,g35_HFWAG_o],[g35_HF3Hex_b,g35_HF3Hex_o]],
  [[g33_HF_b,g33_HF_o],[g33_LF_b,g33_LF_o],[g33_WAG_b,g33_WAG_o],[g33_LF3Hex_b,g33_LF3Hex_o],[g33_LFWAG_b,g33_LFWAG_o],[g33_HFWAG_b,g33_HFWAG_o],[g33_HF3Hex_b,g33_HF3Hex_o]],
  [[g29_HF_b,g29_HF_o],[g29_LF_b,g29_LF_o],[g29_WAG_b,g29_WAG_o],[g29_LF3Hex_b,g29_LF3Hex_o],[g29_LFWAG_b,g29_LFWAG_o],[g29_HFWAG_b,g29_HFWAG_o],[g29_HF3Hex_b,g29_HF3Hex_o]],
  [[g28a_HF_b,g28a_HF_o],[g28a_LF_b,g28a_LF_o],[g28a_WAG_b,g28a_WAG_o],[g28a_LF3Hex_b,g28a_LF3Hex_o],[g28a_LFWAG_b,g28a_LFWAG_o],[g28a_HFWAG_b,g28a_HFWAG_o],[g28a_HF3Hex_b,g28a_HF3Hex_o]],
  [[g28b_HF_b,g28b_HF_o],[g28b_LF_b,g28b_LF_o],[g28b_WAG_b,g28b_WAG_o],[g28b_LF3Hex_b,g28b_LF3Hex_o],[g28b_LFWAG_b,g28b_LFWAG_o],[g28b_HFWAG_b,g28b_HFWAG_o],[g28b_HF3Hex_b,g28b_HF3Hex_o]],
  [[g23_HF_b,g23_HF_o],[g23_LF_b,g23_LF_o],[g23_WAG_b,g23_WAG_o],[g23_LF3Hex_b,g23_LF3Hex_o],[g23_LFWAG_b,g23_LFWAG_o],[g23_HFWAG_b,g23_HFWAG_o],[g23_HF3Hex_b,g23_HF3Hex_o]],
  [[g17_HF_b,g17_HF_o],[g17_LF_b,g17_LF_o],[g17_WAG_b,g17_WAG_o],[g17_LF3Hex_b,g17_LF3Hex_o],[g17_LFWAG_b,g17_LFWAG_o],[g17_HFWAG_b,g17_HFWAG_o],[g17_HF3Hex_b,g17_HF3Hex_o]]
];

// stimulus windows (s)
const odorOn = 3, odorMid1 = 4.5, odorMid2 = 7.6, odorOff = 9.15;

// ---------- layout geometry (pixels) ----------
const W = 1192, H = 1519;
const colL = [70, 235, 399, 564, 728, 893, 1057];
const colR = [196, 359, 523, 688, 852, 1016, 1181];
const rowT = [40, 263, 480, 711, 929, 1144, 1354];
const rowB = [183, 407, 623, 854, 1073, 1288, 1497];

const FONT = 'Liberation Sans, Arial, Helvetica, sans-serif';
const AXC = '#8a8a8a';
const TICKC = '#4a4a4a';

function ticksFor(lo, hi, d) {
  const v = [];
  let t = Math.ceil(lo / d - 1e-9) * d;
  for (; t <= hi + 1e-9; t += d) v.push(+t.toFixed(6));
  return v;
}

const data = [];
const layout = {
  width: W, height: H,
  margin: {l: 0, r: 0, t: 0, b: 0},
  paper_bgcolor: '#ffffff', plot_bgcolor: '#ffffff',
  showlegend: false, hovermode: false,
  font: {family: FONT, size: 11, color: TICKC},
  shapes: [], annotations: []
};

for (let r = 0; r < 7; r++) {
  for (let c = 0; c < 7; c++) {
    const n = r * 7 + c + 1;
    const sfx = n === 1 ? '' : String(n);
    const [raw, fit] = panels[r][c];
    data.push({x: tRaw, y: raw, type: 'scatter', mode: 'lines', xaxis: 'x' + sfx, yaxis: 'y' + sfx,
      line: {color: '#1f7fc8', width: 1}, opacity: 0.9, cliponaxis: true});
    data.push({x: tFit, y: fit, type: 'scatter', mode: 'lines', xaxis: 'x' + sfx, yaxis: 'y' + sfx,
      line: {color: '#D95319', width: 1.1, shape: 'spline', smoothing: 0.8}});

    const yr = yRanges[r][c];
    const yt = ticksFor(yr[0], yr[1], yDticks[r][c]);
    layout['xaxis' + sfx] = {
      domain: [colL[c] / W, colR[c] / W], range: [0, 12], anchor: 'y' + sfx,
      tickmode: 'array', tickvals: xTickVals, ticktext: xTickVals.map(String),
      ticks: 'inside', ticklen: 3, tickcolor: AXC, tickwidth: 1,
      showline: true, linecolor: AXC, linewidth: 1, mirror: 'ticks',
      showgrid: false, zeroline: false, fixedrange: true,
      tickfont: {family: FONT, size: 11, color: TICKC}, ticklabelstandoff: 4
    };
    layout['yaxis' + sfx] = {
      domain: [1 - rowB[r] / H, 1 - rowT[r] / H], range: yr, anchor: 'x' + sfx,
      tickmode: 'array', tickvals: yt, ticktext: yt.map(String),
      ticks: 'inside', ticklen: 3, tickcolor: AXC, tickwidth: 1,
      showline: true, linecolor: AXC, linewidth: 1, mirror: 'ticks',
      showgrid: false, zeroline: false, fixedrange: true,
      tickfont: {family: FONT, size: 11, color: TICKC}, ticklabelstandoff: 3
    };
    const xr = 'x' + sfx, yrf = 'y' + sfx + ' domain';
    layout.shapes.push({type: 'rect', xref: xr, yref: yrf, x0: odorOn, x1: odorMid1, y0: 0, y1: 1,
      fillcolor: '#fffde0', line: {color: '#f3cf78', width: 1}, layer: 'below'});
    layout.shapes.push({type: 'rect', xref: xr, yref: yrf, x0: odorMid2, x1: odorOff, y0: 0, y1: 1,
      fillcolor: '#fffde0', line: {color: '#f3cf78', width: 1}, layer: 'below'});
    layout.shapes.push({type: 'rect', xref: xr, yref: yrf, x0: odorMid1, x1: odorMid2, y0: 0, y1: 1,
      fillcolor: '#e8e9e5', line: {color: '#c9e0e4', width: 1}, layer: 'below'});
  }
}

// column titles
for (let c = 0; c < 7; c++) {
  layout.annotations.push({xref: 'paper', yref: 'paper', x: (colL[c] + colR[c]) / 2 / W, y: 1 - 21 / H,
    text: odorNames[c], showarrow: false, xanchor: 'center', yanchor: 'middle',
    font: {family: FONT, size: 15, color: '#262626'}});
}
// row labels
for (let r = 0; r < 7; r++) {
  const yc = 1 - (rowT[r] + rowB[r]) / 2 / H;
  layout.annotations.push({xref: 'paper', yref: 'paper', x: (r === 0 ? 17 : 28) / W, y: yc,
    text: gloNames[r], showarrow: false, textangle: -90, xanchor: 'center', yanchor: 'middle',
    font: {family: FONT, size: 15, color: '#262626'}});
}
layout.annotations.push({xref: 'paper', yref: 'paper', x: 46 / W, y: 1 - 118 / H,
  text: 'ΔF/F [%]', showarrow: false, textangle: -90, xanchor: 'center', yanchor: 'middle',
  font: {family: FONT, size: 15, color: '#262626'}});
layout.annotations.push({xref: 'paper', yref: 'paper', x: 141 / W, y: 1 - 212 / H,
  text: 'Time  [s]', showarrow: false, xanchor: 'center', yanchor: 'middle',
  font: {family: FONT, size: 15, color: '#262626'}});

Plotly.newPlot('chart', data, layout, {staticPlot: true, displayModeBar: false});
</script>
</body>
</html>
